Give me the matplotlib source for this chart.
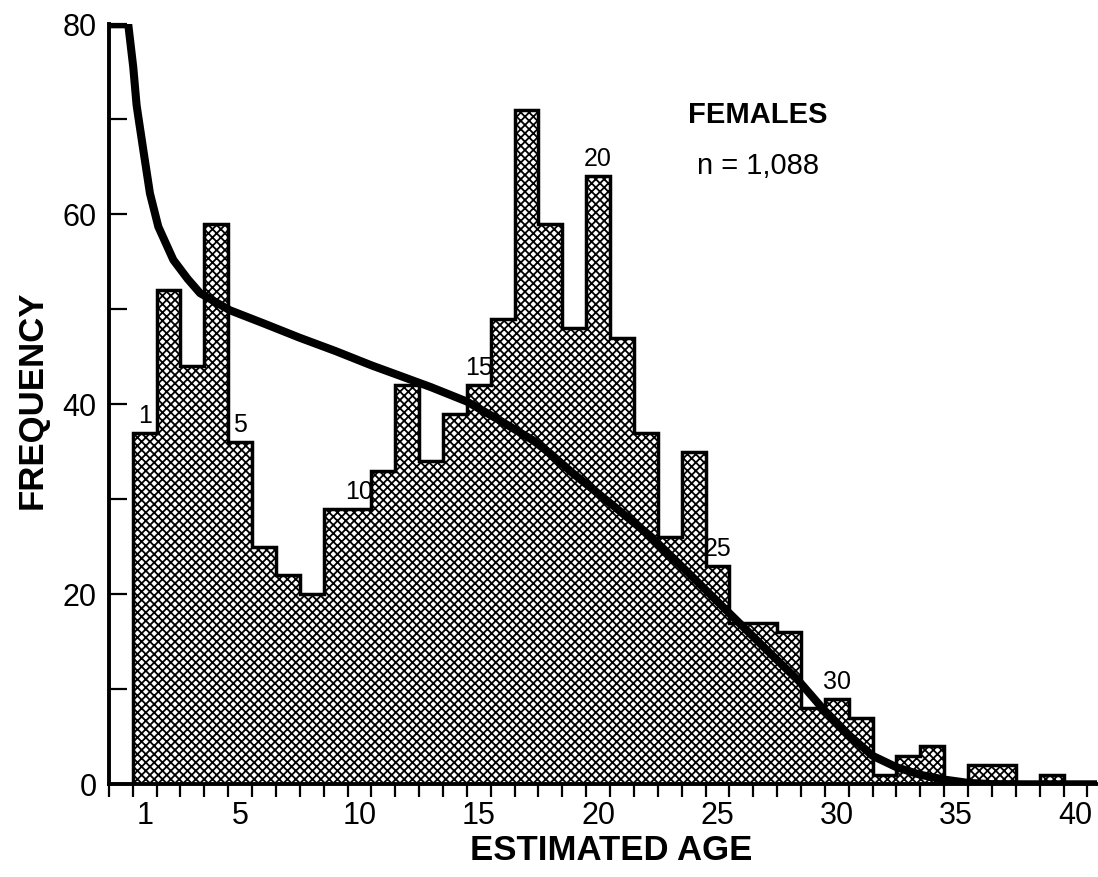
import numpy as np
import matplotlib
matplotlib.use("Agg")
import matplotlib.pyplot as plt

# ---- data ----
ages = list(range(1, 41))
freq = [37, 52, 44, 59, 36, 25, 22, 20, 29, 29,
        33, 42, 34, 39, 42, 49, 71, 59, 48, 64,
        47, 37, 26, 35, 23, 17, 17, 16, 8, 9,
        7, 1, 3, 4, 0, 2, 2, 0, 1, 0]
bar_labels = [1, 5, 10, 15, 20, 25, 30]
xtick_labels = [1, 5, 10, 15, 20, 25, 30, 35, 40]
ytick_labels = [0, 20, 40, 60, 80]

curve_x = [-0.5, 0.31, 0.45, 0.52, 0.66, 0.73, 0.94, 1.22, 1.57, 2.2, 2.8, 3.32,
           4.57, 6.0, 7.5, 9.0, 10.5, 11.7, 13.0, 14.49, 15.88, 17.28, 18.0,
           18.96, 20.5, 22.2, 23.8, 25.5, 27.0, 28.4, 29.4, 30.5, 31.5, 32.5,
           33.5, 34.5, 35.5, 36.5, 38.0, 41.0]
curve_y = [80, 80, 77.0, 75.5, 71.5, 70.3, 66.8, 62.2, 58.7, 55.2, 53.2, 51.7,
           49.9, 48.5, 47.0, 45.6, 44.1, 43.0, 41.8, 40.3, 38.3, 36.2, 34.8,
           32.7, 29.6, 26.1, 22.2, 18.0, 14.3, 10.9, 8.0, 5.2, 3.0, 1.8,
           1.0, 0.5, 0.15, 0.02, 0, 0]

plt.rcParams['font.family'] = ['Liberation Sans', 'DejaVu Sans']
plt.rcParams['hatch.linewidth'] = 1.3
plt.rcParams['hatch.color'] = 'black'

W, H = 1098, 877
fig = plt.figure(figsize=(W / 100, H / 100), dpi=100)
x0, x1 = 108.9, 1096.9
y0, y1 = 784.3, 24.3
ax = fig.add_axes([x0 / W, (H - y0) / H, (x1 - x0) / W, (y0 - y1) / H])

edges = np.arange(0.5, 41.0, 1.0)
ax.stairs(freq, edges, baseline=0, fill=True, facecolor='white',
          edgecolor='black', hatch='xxxx', linewidth=0, zorder=1)
ax.stairs(freq, edges, baseline=0, fill=False, color='black',
          linewidth=2.5, zorder=2)

ax.plot(curve_x, curve_y, color='black', linewidth=5.8,
        solid_joinstyle='round', solid_capstyle='butt', zorder=3)

for a in bar_labels:
    ax.text(a, freq[a - 1] + 0.55, str(a), ha='center', va='bottom',
            fontsize=18, zorder=4)

ax.set_xlim(-0.5, (x1 - x0) / ((1087.3 - 132.7) / 40) - 0.5)
ax.set_ylim(0, 80)

ax.spines['top'].set_visible(False)
ax.spines['right'].set_visible(False)
ax.spines['left'].set_linewidth(2.8)
ax.spines['bottom'].set_linewidth(2.8)

ax.set_xticks(xtick_labels)
ax.set_xticklabels([str(v) for v in xtick_labels])
ax.set_xticks(np.arange(-0.5, 41.0, 1.0), minor=True)
ax.tick_params(axis='x', which='major', length=0, pad=12, labelsize=22)
ax.tick_params(axis='x', which='minor', direction='out', length=9, width=1.6)

ax.set_yticks(ytick_labels)
ax.set_yticks([10, 30, 50, 70], minor=True)
ax.tick_params(axis='y', which='both', direction='in', length=13, width=1.6)
ax.tick_params(axis='y', which='major', pad=9, labelsize=22)

fig.text(32 / W, 1 - 400 / H, 'FREQUENCY', rotation=90, fontsize=25,
         fontweight='bold', ha='center', va='center')
fig.text(611 / W, 1 - 850 / H, 'ESTIMATED AGE', fontsize=25,
         fontweight='bold', ha='center', va='center')
ax.text(26.7, 70.5, 'FEMALES', fontsize=21, fontweight='bold',
        ha='center', va='center')
ax.text(26.7, 65.1, 'n = 1,088', fontsize=21, ha='center', va='center')

fig.savefig('out.png', dpi=100)
